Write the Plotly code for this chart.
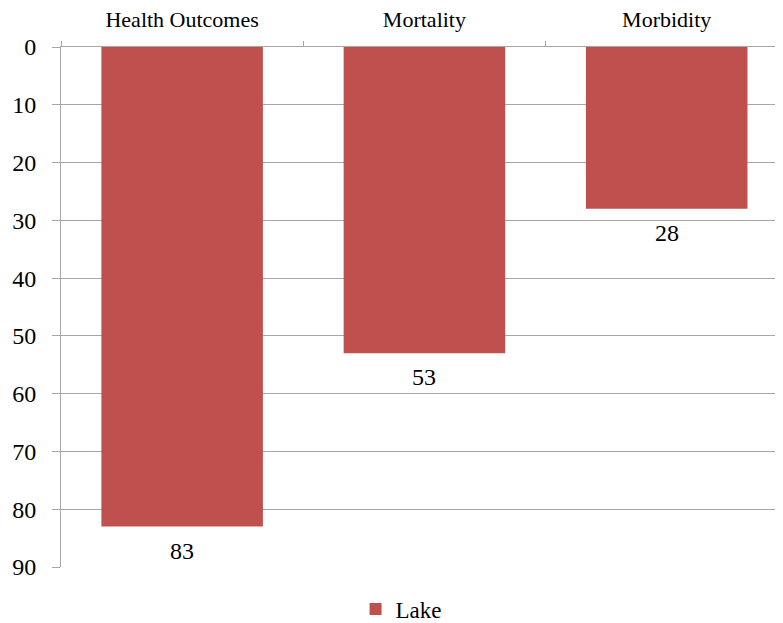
import plotly.graph_objects as go

categories = ["Health Outcomes", "Mortality", "Morbidity"]
values = [83, 53, 28]
series_name = "Lake"
y_ticks = [0, 10, 20, 30, 40, 50, 60, 70, 80, 90]

font = "'Times New Roman', 'Liberation Serif', 'DejaVu Serif', serif"
bar_color = "#C0504D"
grid_color = "#A6A6A6"

fig = go.Figure()
fig.add_trace(go.Bar(
    x=categories, y=values, name=series_name,
    marker=dict(color=bar_color, line=dict(width=0)),
))

for c, v in zip(categories, values):
    fig.add_annotation(x=c, y=v, text=str(v), showarrow=False,
                       xanchor="center", yanchor="middle", yshift=-24,
                       font=dict(family=font, size=24, color="#000000"))

fig.update_layout(
    width=775, height=615,
    margin=dict(l=53, r=0, t=39, b=56, autoexpand=False),
    paper_bgcolor="white", plot_bgcolor="white",
    bargap=1/3,
    showlegend=True,
    legend=dict(orientation="h", x=0.471, xanchor="center", y=-0.081, yanchor="middle",
                bgcolor="rgba(0,0,0,0)",
                font=dict(family=font, size=23, color="#000000")),
    font=dict(family=font, color="#000000"),
)
fig.update_xaxes(
    side="top", type="category", automargin=False, range=[-0.5, 2.48],
    showline=True, linecolor=grid_color, linewidth=1,
    ticks="outside", tickson="boundaries", ticklen=5, tickcolor=grid_color,
    ticklabelstandoff=10,
    tickfont=dict(family=font, size=22, color="#000000"),
    showgrid=False,
)
fig.update_yaxes(
    range=[90, 0], tickvals=y_ticks, automargin=False,
    showline=True, linecolor=grid_color, linewidth=1,
    ticks="outside", ticklen=8, tickcolor=grid_color,
    ticklabelstandoff=11,
    showgrid=True, gridcolor=grid_color, gridwidth=1,
    tickfont=dict(family=font, size=24, color="#000000"),
    zeroline=False,
)
fig.write_html("out.html")
